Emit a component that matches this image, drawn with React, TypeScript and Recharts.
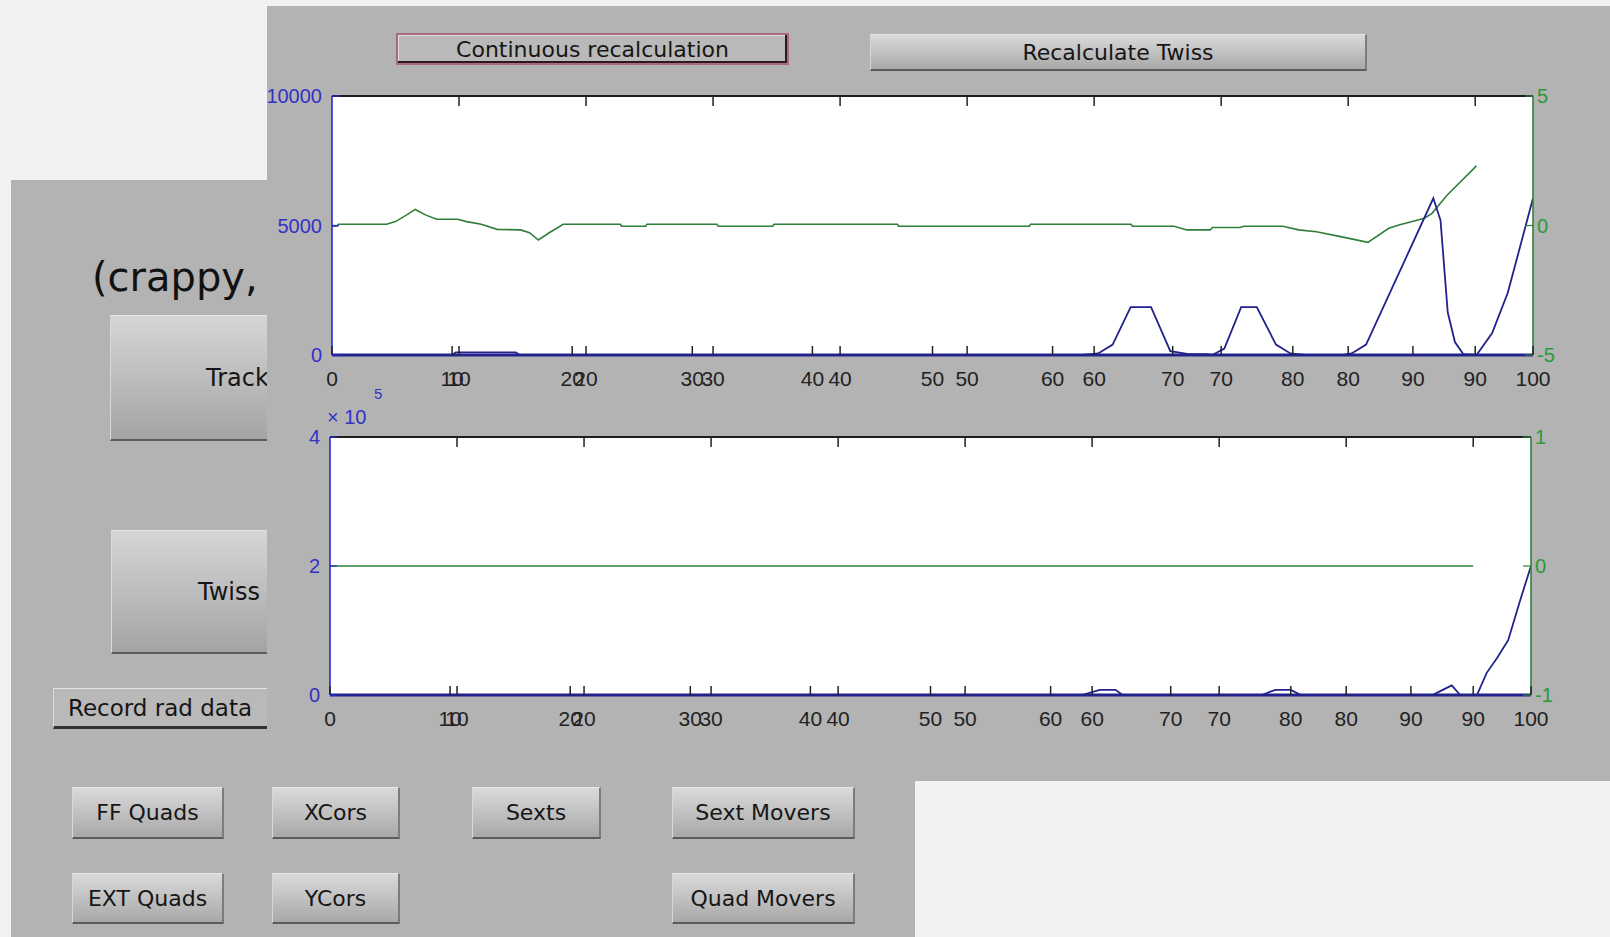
import React from "react";
import { LineChart, Line, XAxis, YAxis, CartesianGrid } from "recharts";

// x ticks: two overlaid x axes (plotyy style), one 0..100, the other 0..~94.5
const xTicksA = [0, 10, 20, 30, 40, 50, 60, 70, 80, 90, 100];
const xTicksB = [10, 20, 30, 40, 50, 60, 70, 80, 90];
const X_B_MAX = 94.55;

// top panel, left axis (blue)
const topBlueX = [0, 10.0, 10.3, 15.3, 15.6, 62.5, 63.8, 65.0, 66.5, 68.2, 69.8, 71.2, 72.8, 73.3, 74.3, 75.7, 77.0, 78.6, 79.8, 81.0, 84.2, 84.9, 86.1, 91.7, 92.3, 92.9, 93.5, 94.2, 95.3, 96.6, 97.9, 100];
const topBlueY = [0, 0, 100, 100, 0, 0, 60, 400, 1850, 1850, 150, 40, 30, 0, 250, 1850, 1850, 400, 60, 0, 0, 60, 400, 6050, 5200, 1650, 500, 30, 0, 850, 2400, 6050];

// top panel, right axis (green)
const topGreenX = [0, 0.4, 0.5, 4.3, 5.0, 5.85, 6.55, 7.4, 8.25, 9.9, 10.6, 11.75, 13.0, 14.85, 15.55, 16.25, 17.1, 18.2, 22.7, 22.8, 24.7, 24.8, 30.3, 30.4, 34.7, 34.8, 44.5, 44.6, 54.9, 55.0, 62.9, 63.0, 66.3, 67.3, 69.15, 69.3, 71.5, 71.8, 74.85, 76.1, 77.5, 79.5, 81.55, 83.2, 84.0, 86.0, 86.6, 87.8, 90.1];
const topGreenY = [-0.03, -0.03, 0.05, 0.05, 0.15, 0.4, 0.62, 0.4, 0.24, 0.24, 0.15, 0.05, -0.15, -0.17, -0.28, -0.56, -0.28, 0.05, 0.05, -0.03, -0.03, 0.05, 0.05, -0.03, -0.03, 0.05, 0.05, -0.03, -0.03, 0.05, 0.05, -0.03, -0.03, -0.17, -0.17, -0.08, -0.08, -0.03, -0.03, -0.17, -0.24, -0.44, -0.65, -0.11, 0.02, 0.28, 0.47, 1.18, 2.3];

const topLeftTicks = [0, 5000, 10000];
const topRightTicks = [-5, 0, 5];

// bottom panel
const botBlueX = [0, 62.6, 64.1, 65.4, 66.0, 77.6, 78.7, 80.0, 80.85, 91.8, 92.65, 93.4, 94.1, 95.5, 96.3, 97.2, 98.1, 99.1, 100];
const botBlueY = [0, 0, 8000, 8000, 0, 0, 8000, 8000, 0, 0, 8000, 15000, 0, 0, 34000, 58000, 85000, 147000, 200000];
const botGreenX = [0, 90];
const botGreenY = [0, 0];
const botLeftTicks = [0, 200000, 400000];
const botRightTicks = [-1, 0, 1];

const NAVY = "#22228c";
const BLUE_AX = "#2a2ad0";
const BLUE_TXT = "#3232c4";
const GREEN = "#2f7f3a";
const GREEN_TXT = "#2a9a3a";
const WIN = "#b3b3b3";
const UI_FONT = "'DejaVu Sans', Verdana, sans-serif";
const TICK_FONT = "'Liberation Sans', Arial, sans-serif";

const zip = (xs: number[], ys: number[]) => xs.map((x, i) => ({ x, y: ys[i] }));

function TopTick(props: any) {
  const { x, y } = props;
  return <line x1={x} y1={y} x2={x} y2={y + 10} stroke="#222" strokeWidth={1.5} />;
}

function BottomTick(props: any) {
  const { x, y, payload, lift } = props;
  const base = y - lift;
  return (
    <g>
      <line x1={x} y1={base} x2={x} y2={base - 9} stroke="#222" strokeWidth={1.5} />
      <text x={x} y={base + 31} textAnchor="middle" fill="#222" fontSize={21} fontFamily={TICK_FONT}>
        {payload.value}
      </text>
    </g>
  );
}

function LeftTick(props: any) {
  const { x, y, payload, fmt } = props;
  return (
    <g>
      <line x1={x} y1={y} x2={x + 7} y2={y} stroke={BLUE_AX} strokeWidth={1.2} />
      <text x={x - 10} y={y + 7} textAnchor="end" fill={BLUE_TXT} fontSize={20} fontFamily={TICK_FONT}>
        {fmt(payload.value)}
      </text>
    </g>
  );
}

function RightTick(props: any) {
  const { x, y, payload } = props;
  return (
    <g>
      <line x1={x} y1={y} x2={x - 8} y2={y} stroke={GREEN} strokeWidth={1.2} />
      <text x={x + 4} y={y + 7} textAnchor="start" fill={GREEN_TXT} fontSize={20} fontFamily={TICK_FONT}>
        {payload.value}
      </text>
    </g>
  );
}

type PlotProps = {
  plotLeft: number;
  plotTop: number;
  plotW: number;
  plotH: number;
  blue: { x: number; y: number }[];
  green: { x: number; y: number }[];
  leftMax: number;
  leftTicks: number[];
  leftFmt: (v: number) => string;
  rightMax: number;
  rightTicks: number[];
};

function TwinPlot({ plotLeft, plotTop, plotW, plotH, blue, green, leftMax, leftTicks, leftFmt, rightMax, rightTicks }: PlotProps) {
  return (
    <div style={{ position: "absolute", left: plotLeft - 70, top: plotTop - 18 }}>
      <LineChart width={plotW + 120} height={plotH + 63} margin={{ top: 17, right: 10, bottom: 43, left: 10 }}>
        <CartesianGrid xAxisId="a" yAxisId="l" horizontal={false} vertical={false} fill="#ffffff" fillOpacity={1} stroke="none" />
        <XAxis
          xAxisId="top"
          orientation="top"
          type="number"
          dataKey="x"
          domain={[0, X_B_MAX]}
          ticks={xTicksB}
          allowDataOverflow
          height={1}
          interval={0}
          tickSize={0}
          tickMargin={0}
          axisLine={{ stroke: "#1e1e1e", strokeWidth: 2 }}
          tickLine={false}
          tick={(p: any) => <TopTick {...p} />}
        />
        <XAxis
          xAxisId="a"
          type="number"
          dataKey="x"
          domain={[0, 100]}
          ticks={xTicksA}
          allowDataOverflow
          height={1}
          interval={0}
          tickSize={0}
          tickMargin={0}
          axisLine={{ stroke: NAVY, strokeWidth: 3 }}
          tickLine={false}
          tick={(p: any) => <BottomTick {...p} lift={0} />}
        />
        <XAxis
          xAxisId="b"
          type="number"
          dataKey="x"
          domain={[0, X_B_MAX]}
          ticks={xTicksB}
          allowDataOverflow
          height={1}
          interval={0}
          tickSize={0}
          tickMargin={0}
          axisLine={false}
          tickLine={false}
          tick={(p: any) => <BottomTick {...p} lift={1} />}
        />
        <YAxis
          yAxisId="l"
          orientation="left"
          type="number"
          width={60}
          domain={[0, leftMax]}
          ticks={leftTicks}
          allowDataOverflow
          interval={0}
          tickSize={0}
          tickMargin={0}
          axisLine={{ stroke: BLUE_AX, strokeWidth: 1.6 }}
          tickLine={false}
          tick={(p: any) => <LeftTick {...p} fmt={leftFmt} />}
        />
        <YAxis
          yAxisId="r"
          orientation="right"
          type="number"
          width={40}
          domain={[-rightMax, rightMax]}
          ticks={rightTicks}
          allowDataOverflow
          interval={0}
          tickSize={0}
          tickMargin={0}
          axisLine={{ stroke: GREEN, strokeWidth: 1.6 }}
          tickLine={false}
          tick={(p: any) => <RightTick {...p} />}
        />
        <Line xAxisId="b" yAxisId="r" data={green} dataKey="y" type="linear" stroke={GREEN} strokeWidth={1.6} dot={false} activeDot={false} isAnimationActive={false} />
        <Line xAxisId="a" yAxisId="l" data={blue} dataKey="y" type="linear" stroke={NAVY} strokeWidth={1.8} dot={false} activeDot={false} isAnimationActive={false} />
      </LineChart>
    </div>
  );
}

type BtnProps = {
  left: number;
  top: number;
  width: number;
  height: number;
  label: string;
  textLeft?: number;
  fontSize?: number;
  style?: React.CSSProperties;
};

function Btn({ left, top, width, height, label, textLeft, fontSize = 22, style }: BtnProps) {
  return (
    <div
      style={{
        position: "absolute",
        left,
        top,
        width,
        height,
        boxSizing: "border-box",
        background: "linear-gradient(#dadada, #a8a8a8)",
        borderTop: "1px solid #e4e4e4",
        borderLeft: "1px solid #d8d8d8",
        borderRight: "2px solid #7c7c7c",
        borderBottom: "2px solid #5c5c5c",
        display: "flex",
        alignItems: "center",
        justifyContent: textLeft === undefined ? "center" : "flex-start",
        paddingLeft: textLeft ?? 0,
        fontFamily: UI_FONT,
        fontSize,
        color: "#161616",
        whiteSpace: "nowrap",
        overflow: "hidden",
        ...style,
      }}
    >
      {label}
    </div>
  );
}

export default function App() {
  const topBlue = zip(topBlueX, topBlueY);
  const topGreen = zip(topGreenX, topGreenY);
  const botBlue = zip(botBlueX, botBlueY);
  const botGreen = zip(botGreenX, botGreenY);

  return (
    <div style={{ position: "absolute", left: 0, top: 0, width: 1610, height: 937, overflow: "hidden", background: "#f2f2f2" }}>
      {/* back window, mostly hidden behind the plot window */}
      <div style={{ position: "absolute", left: 11, top: 180, width: 904, height: 757, background: WIN, overflow: "hidden" }}>
        <div style={{ position: "absolute", left: 81, top: 77, fontFamily: UI_FONT, fontSize: 40, lineHeight: 1, color: "#111", whiteSpace: "nowrap" }}>
          (crappy,
        </div>
        <Btn left={99} top={135} width={220} height={126} label="Track" textLeft={95} fontSize={24} style={{ background: "linear-gradient(#d6d6d6, #a4a4a4)" }} />
        <Btn left={100} top={350} width={220} height={124} label="Twiss" textLeft={86} fontSize={24} style={{ background: "linear-gradient(#d6d6d6, #a4a4a4)" }} />
        <Btn left={42} top={508} width={240} height={41} label="Record rad data" textLeft={14} fontSize={23} style={{ background: "#b9b9b9", borderBottom: "3px solid #333" }} />
        <Btn left={61} top={607} width={152} height={52} label="FF Quads" />
        <Btn left={261} top={607} width={128} height={52} label="XCors" />
        <Btn left={461} top={607} width={129} height={52} label="Sexts" />
        <Btn left={661} top={607} width={183} height={52} label="Sext Movers" />
        <Btn left={61} top={693} width={152} height={51} label="EXT Quads" />
        <Btn left={261} top={693} width={128} height={51} label="YCors" />
        <Btn left={661} top={693} width={183} height={51} label="Quad Movers" />
      </div>

      {/* front window */}
      <div style={{ position: "absolute", left: 267, top: 6, width: 1343, height: 775, background: WIN }}>
        <Btn
          left={129}
          top={27}
          width={393}
          height={32}
          label="Continuous recalculation"
          style={{ background: "#b9b9b9", border: "2px solid #a86a7c", boxShadow: "inset -2px -2px 0 #2a1a20, inset 1px 1px 0 #dedede" }}
        />
        <Btn left={603} top={28} width={497} height={37} label="Recalculate Twiss" />
      </div>

      <TwinPlot
        plotLeft={332}
        plotTop={96}
        plotW={1201}
        plotH={259}
        blue={topBlue}
        green={topGreen}
        leftMax={10000}
        leftTicks={topLeftTicks}
        leftFmt={(v) => String(v)}
        rightMax={5}
        rightTicks={topRightTicks}
      />
      <TwinPlot
        plotLeft={330}
        plotTop={437}
        plotW={1201}
        plotH={258}
        blue={botBlue}
        green={botGreen}
        leftMax={400000}
        leftTicks={botLeftTicks}
        leftFmt={(v) => String(v / 100000)}
        rightMax={1}
        rightTicks={botRightTicks}
      />

      {/* exponent label of the lower panel */}
      <div style={{ position: "absolute", left: 327, top: 405, fontFamily: TICK_FONT, fontSize: 20, lineHeight: "24px", color: BLUE_TXT, whiteSpace: "nowrap" }}>
        × 10
      </div>
      <div style={{ position: "absolute", left: 374, top: 385, fontFamily: TICK_FONT, fontSize: 15, lineHeight: "18px", color: BLUE_TXT }}>
        5
      </div>
    </div>
  );
}
